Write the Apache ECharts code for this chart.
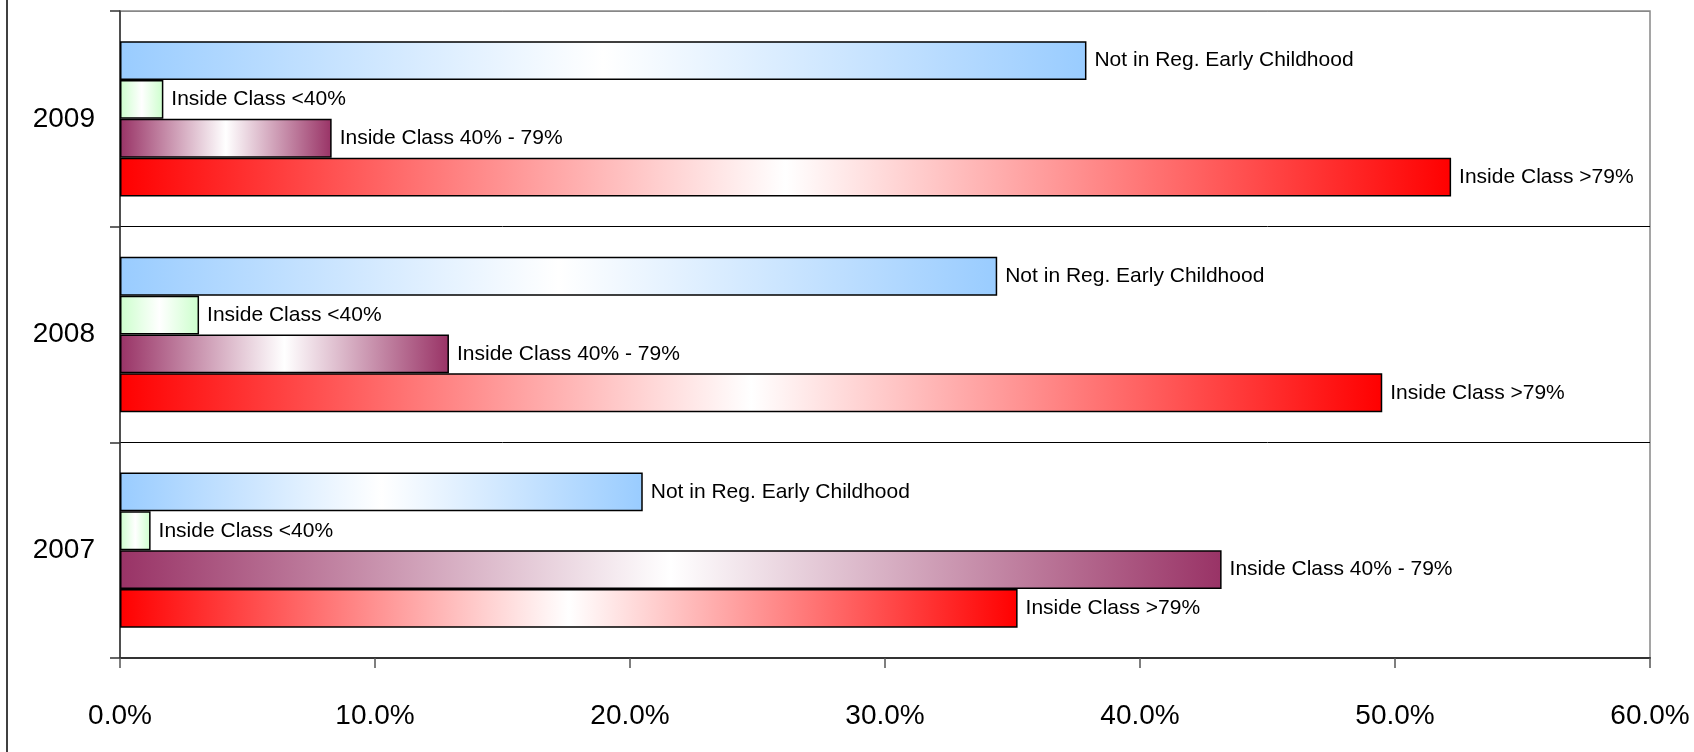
<!DOCTYPE html>
<html>
<head>
<meta charset="utf-8">
<script src="https://cdn.jsdelivr.net/npm/echarts@6/dist/echarts.min.js"></script>
<style>
html,body{margin:0;padding:0;background:#fff;}
#chart{width:1694px;height:752px;}
</style>
</head>
<body>
<div id="chart"></div>
<script>
// Data
const years = ['2007', '2008', '2009'];
const seriesNames = ['Not in Reg. Early Childhood', 'Inside Class <40%', 'Inside Class 40% - 79%', 'Inside Class >79%'];
const notInReg = [20.5, 34.4, 37.9];
const insideLt40 = [1.2, 3.1, 1.7];
const inside40to79 = [43.2, 12.9, 8.3];
const insideGt79 = [35.2, 49.5, 52.2];
const seriesColors = ['#99CCFF', '#CCFFCC', '#993366', '#FF0000'];
const xMin = 0, xMax = 60, xStep = 10;

const values = [notInReg, insideLt40, inside40to79, insideGt79];
const FONT = "'Liberation Sans', Arial, sans-serif";

function grad(c) {
  return new echarts.graphic.LinearGradient(0, 0, 1, 0, [
    { offset: 0, color: c },
    { offset: 0.5, color: '#ffffff' },
    { offset: 1, color: c }
  ]);
}

const chart = echarts.init(document.getElementById('chart'), null, { renderer: 'canvas' });
chart.setOption({
  backgroundColor: '#ffffff',
  animation: false,
  grid: {
    left: 120, right: 44, top: 11, bottom: 94,
    show: true, borderColor: '#888888', borderWidth: 1.5, backgroundColor: 'transparent'
  },
  graphic: [{
    type: 'line', shape: { x1: 7, y1: 0, x2: 7, y2: 752 },
    style: { stroke: '#000', lineWidth: 1.5 }
  }],
  xAxis: {
    type: 'value', min: xMin, max: xMax, interval: xStep,
    axisLine: { show: true, lineStyle: { color: '#333', width: 2 } },
    axisTick: { show: true, length: 10, lineStyle: { color: '#555', width: 1.5 } },
    splitLine: { show: false },
    axisLabel: {
      color: '#000', fontSize: 28, fontFamily: FONT, margin: 44,
      formatter: v => v.toFixed(1) + '%'
    }
  },
  yAxis: {
    type: 'category', data: years,
    axisLine: { show: true, lineStyle: { color: '#333', width: 1.5 } },
    axisTick: { show: true, length: 10, lineStyle: { color: '#333', width: 1.5 } },
    splitLine: { show: true, lineStyle: { color: ['#333', '#000', '#000', '#888'], width: 1 } },
    axisLabel: { color: '#000', fontSize: 28, fontFamily: FONT, margin: 25 }
  },
  series: seriesNames.map((name, i) => ({
    name: name,
    type: 'bar',
    data: values[i],
    barGap: '0%',
    barCategoryGap: '28%',
    itemStyle: { color: grad(seriesColors[i]), borderColor: '#000', borderWidth: 1.5 },
    label: {
      show: true, position: 'right', distance: 8,
      formatter: '{a}', color: '#000', fontSize: 21, fontFamily: FONT
    }
  }))
});
</script>
</body>
</html>
